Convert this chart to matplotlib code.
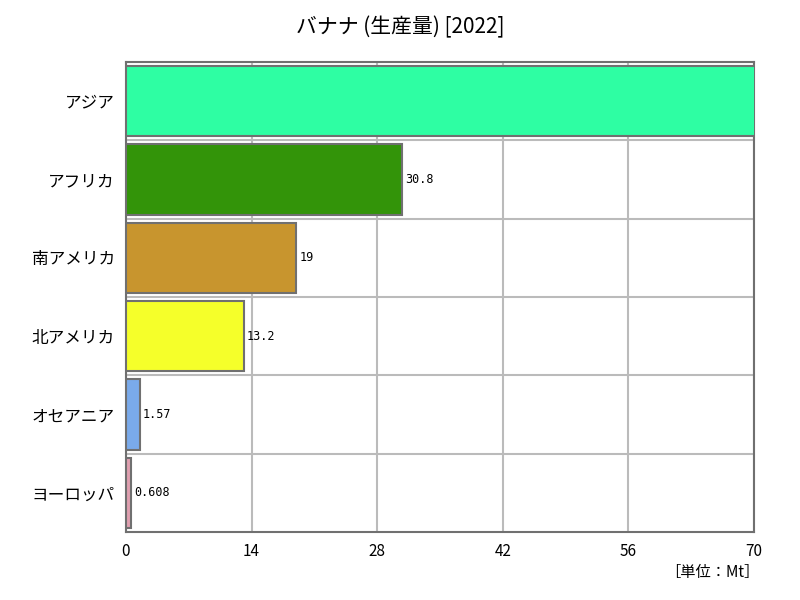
import matplotlib
matplotlib.use('Agg')
import matplotlib.pyplot as plt
import numpy as np

plt.rcParams['font.family'] = ['Noto Sans CJK JP', 'DejaVu Sans']

regions = ['アジア', 'アフリカ', '南アメリカ', '北アメリカ', 'オセアニア', 'ヨーロッパ']
values = [74.1, 30.8, 19, 13.2, 1.57, 0.608]
labels = ['74.1', '30.8', '19', '13.2', '1.57', '0.608']
colors = ['#2efea3', '#339409', '#c8952e', '#f5ff2a', '#7aaaea', '#e0a0b0']
xticks = [0, 14, 28, 42, 56, 70]
xmax = 70

fig = plt.figure(figsize=(8, 6), dpi=100)
ax = fig.add_axes([0.1575, 0.113, 0.785, 0.784])

y = np.arange(len(regions))
ax.barh(y, values, height=0.9, color=colors, edgecolor='#707070', linewidth=1.5, zorder=3)
for yi, v, lab in zip(y, values, labels):
    # labels past the axis end are not shown
    if v >= xmax:
        continue
    ax.text(v + 0.3, yi, lab, va='center', ha='left', fontsize=8.5,
            family=['DejaVu Sans Mono'], zorder=4)

ax.set_xlim(0, xmax)
ax.set_ylim(len(regions) - 0.5, -0.5)
ax.set_xticks(xticks)
ax.set_xticklabels([str(t) for t in xticks], fontsize=11)
ax.set_yticks(y)
ax.set_yticklabels(regions, fontsize=12)
ax.tick_params(length=0, pad=8)

ax.set_yticks(np.arange(len(regions) - 1) + 0.5, minor=True)
ax.tick_params(which='minor', length=0)
ax.grid(axis='x', which='major', color='#bbbbbb', linewidth=1.5, zorder=0)
ax.grid(axis='y', which='minor', color='#bbbbbb', linewidth=1.5, zorder=0)

for s in ax.spines.values():
    s.set_color('#707070')
    s.set_linewidth(1.5)

fig.text(0.5, 0.955, 'バナナ (生産量) [2022]', ha='center', va='center', fontsize=15)
fig.text(0.95, 0.045, '［単位：Mt］', ha='right', va='center', fontsize=11)

fig.savefig('out.png', dpi=100)
